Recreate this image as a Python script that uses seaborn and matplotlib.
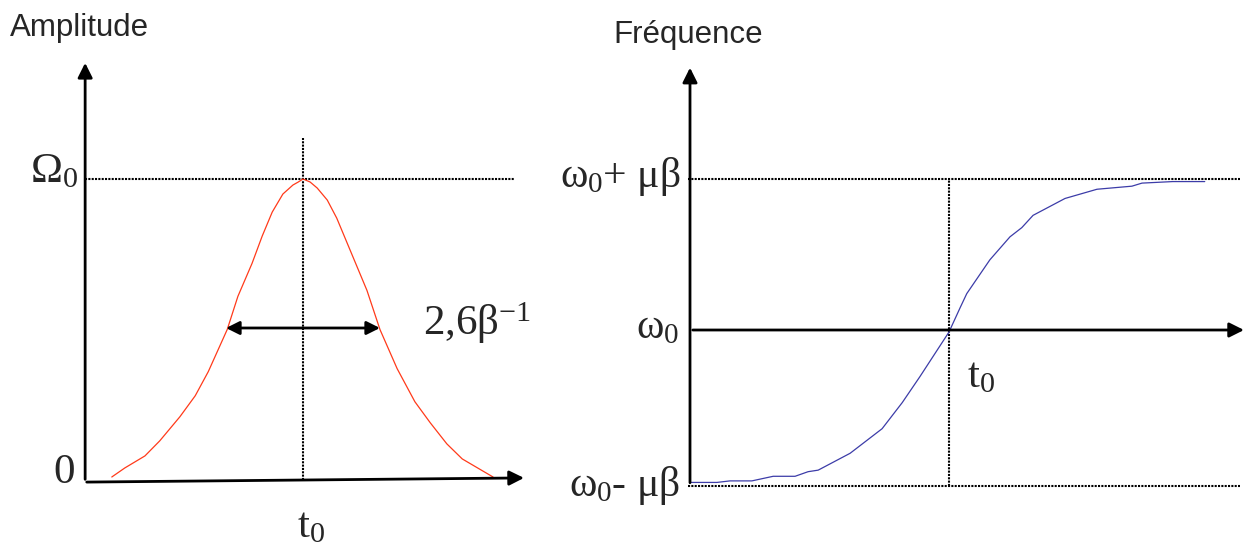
import matplotlib
matplotlib.use('Agg')
import matplotlib.pyplot as plt
import seaborn as sns

# enveloppe d'amplitude (t en unites de 1/beta, amplitude en unites de Omega_0)
t_amp = [-3.23, -3.01, -2.67, -2.42, -2.08, -1.82, -1.60, -1.28, -1.10, -0.86,
         -0.69, -0.52, -0.34, -0.17, -0.08, 0.00, 0.12, 0.24, 0.41, 0.57,
         0.74, 0.91, 1.08, 1.30, 1.59, 1.89, 2.15, 2.43, 2.69, 3.21]
amp = [0.01, 0.04, 0.08, 0.13, 0.21, 0.28, 0.36, 0.50, 0.61, 0.72,
       0.81, 0.89, 0.95, 0.98, 0.99, 1.00, 0.99, 0.97, 0.93, 0.87,
       0.79, 0.71, 0.63, 0.50, 0.37, 0.26, 0.19, 0.12, 0.07, 0.01]

# frequence instantanee (en unites de mu*beta autour de omega_0)
t_freq = [-4.36, -3.92, -3.70, -3.33, -2.97, -2.60, -2.38, -2.21, -1.67, -1.13,
          -0.79, -0.49, 0.00, 0.19, 0.30, 0.69, 1.03, 1.23, 1.42, 1.96,
          2.50, 3.09, 3.26, 3.78, 4.32]
freq = [-0.98, -0.98, -0.97, -0.97, -0.94, -0.94, -0.91, -0.90, -0.79, -0.63,
        -0.46, -0.29, 0.00, 0.16, 0.25, 0.47, 0.62, 0.68, 0.76, 0.87,
        0.93, 0.95, 0.97, 0.98, 0.98]

fwhm = 2.6

sns.set_style('white')
plt.rcParams['font.family'] = ['Liberation Serif', 'DejaVu Serif']
plt.rcParams['mathtext.fontset'] = 'custom'
plt.rcParams['mathtext.rm'] = 'Liberation Serif'
plt.rcParams['mathtext.it'] = 'Liberation Serif'
plt.rcParams['mathtext.bf'] = 'Liberation Serif:bold'

fig = plt.figure(figsize=(12.48, 5.46), dpi=100)
W, H = 1248.0, 546.0
dot = (0, (1, 0.6))
dlw = 1.5
big = 31

# ---- gauche : amplitude
ax1 = fig.add_axes([0, 0, 560 / W, 1])
ax1.set_xlim(-303 / 59.2, (560 - 303) / 59.2)
ax1.set_ylim(-66 / 301, 480 / 301)
ax1.axis('off')

x0, xtip, ytip = -3.68, 3.78, 1.395
ax1.plot([x0, 3.58], [1, 1], color='black', lw=dlw, ls=dot)
ax1.plot([0, 0], [0, 1.136], color='black', lw=dlw, ls=dot)
sns.lineplot(x=t_amp, y=amp, ax=ax1, color='#ff3a1a', lw=0.9, sort=False)
ax1.annotate('', xy=(x0, ytip), xytext=(x0, -0.007),
             arrowprops=dict(arrowstyle='-|>', lw=2, color='black', mutation_scale=22))
ax1.annotate('', xy=(xtip, 0.007), xytext=(x0 - 0.02, -0.007),
             arrowprops=dict(arrowstyle='-|>', lw=2, color='black', mutation_scale=22))
ax1.annotate('', xy=(fwhm / 2, 0.505), xytext=(-fwhm / 2, 0.505),
             arrowprops=dict(arrowstyle='<|-|>', lw=2, color='black', mutation_scale=20,
                             shrinkA=0, shrinkB=0))

ax1.text(-3.80, 0.99, r'$\Omega_0$', fontsize=big, ha='right', va='baseline')
ax1.text(-3.85, -0.01, '0', fontsize=big, ha='right', va='baseline')
ax1.text(-0.10, -0.189, r'$\mathrm{t}_0$', fontsize=big, ha='left', va='baseline')
ax1.text(2.03, 0.482, '2,6β$^{\u22121}$', fontsize=big, ha='left', va='baseline')

# ---- droite : frequence
ax2 = fig.add_axes([560 / W, 0, 688 / W, 1])
ax2.set_xlim((560 - 949) / 59.2, (1248 - 949) / 59.2)
ax2.set_ylim(-214 / 153.5, 332 / 153.5)
ax2.axis('off')

x1 = -4.375
ax2.plot([x1 - 0.03, 4.92], [1, 1], color='black', lw=dlw, ls=dot)
ax2.plot([x1 - 0.03, 4.92], [-1, -1], color='black', lw=dlw, ls=dot)
ax2.plot([0, 0], [-1, 1], color='black', lw=dlw, ls=dot)
sns.lineplot(x=t_freq, y=freq, ax=ax2, color='#3c3ca8', lw=0.9, sort=False)
ax2.annotate('', xy=(x1, 1.74), xytext=(x1, -1),
             arrowprops=dict(arrowstyle='-|>', lw=2, color='black', mutation_scale=22))
ax2.annotate('', xy=(5.03, 0.013), xytext=(x1, 0.013),
             arrowprops=dict(arrowstyle='-|>', lw=2, color='black', mutation_scale=22),
             annotation_clip=False)

ax2.text(-4.54, 0.945, r'$\omega_0$+ $\mu\beta$', fontsize=big - 1, ha='right', va='baseline')
ax2.text(-4.57, -0.04, r'$\omega_0$', fontsize=big - 1, ha='right', va='baseline')
ax2.text(-4.54, -1.07, r'$\omega_0$- $\mu\beta$', fontsize=big - 1, ha='right', va='baseline')
ax2.text(0.30, -0.36, r'$\mathrm{t}_0$', fontsize=big, ha='left', va='baseline')

# titres des axes
fig.text(10 / W, 1 - 36 / H, 'Amplitude', fontsize=22.5, family=['Liberation Sans'],
         ha='left', va='baseline')
fig.text(613 / W, 1 - 43 / H, 'Fréquence', fontsize=22.5, family=['Liberation Sans'],
         ha='left', va='baseline')

fig.savefig('out.png', dpi=100)
